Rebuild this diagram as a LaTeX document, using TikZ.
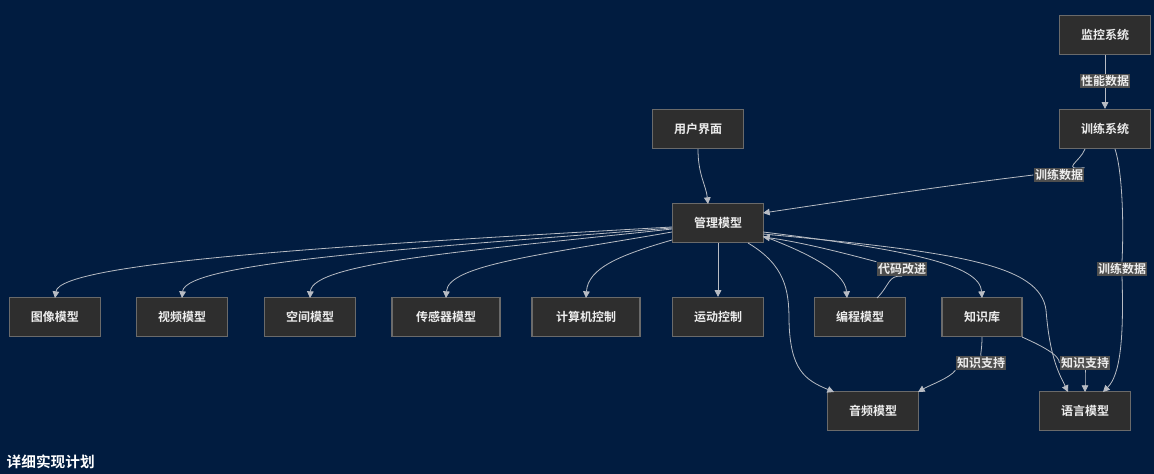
\documentclass[tikz,border=0pt]{standalone}
\usepackage{fontspec}
\setmainfont{Noto Sans CJK SC}[BoldFont={Noto Sans CJK SC Bold}]
\usetikzlibrary{arrows.meta}
\definecolor{bgc}{HTML}{011C40}
\definecolor{nodefill}{HTML}{2E2E2E}
\definecolor{nodeline}{HTML}{6A6A6A}
\definecolor{edgec}{HTML}{B8BCC4}
\definecolor{labfill}{HTML}{4E4E4E}
\definecolor{txt}{HTML}{EDEDED}
\tikzset{
  box/.style={draw=nodeline, line width=0.9pt, fill=nodefill, text=txt, minimum width=68.25pt, minimum height=29.25pt, inner sep=0pt, font=\fontsize{9pt}{10pt}\selectfont\bfseries},
  wbox/.style={box, minimum width=81pt},
  kbox/.style={box, minimum width=60pt},
  lab/.style={fill=labfill, text=txt, inner sep=1pt, font=\fontsize{9pt}{10pt}\selectfont\bfseries},
  edge/.style={draw=edgec, line width=0.6pt},
  arr/.style={edge, -{Triangle[length=5pt,width=5pt]}},
}
\begin{document}
\begin{tikzpicture}[x=0.75pt,y=-0.75pt]
\fill[bgc] (0,0) rectangle (1154,474);
\useasboundingbox (0,0) rectangle (1154,474);
% nodes
\node[box] (mon) at (1105,35) {监控系统};
\node[box] (trn) at (1105,129) {训练系统};
\node[box] (ui) at (698,129) {用户界面};
\node[box] (mgr) at (718,223) {管理模型};
\node[box] (img) at (55,317) {图像模型};
\node[box] (vid) at (182,317) {视频模型};
\node[box] (spa) at (310,317) {空间模型};
\node[wbox] (sen) at (446,317) {传感器模型};
\node[wbox] (cc) at (586,317) {计算机控制};
\node[box] (mot) at (718,317) {运动控制};
\node[box] (prog) at (860,317) {编程模型};
\node[kbox] (kb) at (982,317) {知识库};
\node[box] (aud) at (873,411) {音频模型};
\node[box] (lang) at (1085,411) {语言模型};
\node[anchor=west, text=white, font=\fontsize{11pt}{12pt}\selectfont\bfseries] (title) at (2,462) {详细实现计划};
% coordinates
\coordinate (imgT) at (55,298);
\coordinate (vidT) at (182,298);
\coordinate (spaT) at (310,298);
\coordinate (senT) at (446,298);
\coordinate (ccT) at (586,298);
\coordinate (progT) at (847,298);
\coordinate (kbT) at (982,298);
\coordinate (audT) at (834,392);
\coordinate (langT1) at (1068,392);
\coordinate (langT2) at (1085,392);
\coordinate (langT3) at (1103,392);
\coordinate (langV) at (1046,310);
% labels
\node[lab] (l1) at (1105,81) {性能数据};
\node[lab] (l2) at (1059,175) {训练数据};
\node[lab] (l3) at (1122,269) {训练数据};
\node[lab] (l4) at (902,269) {代码改进};
\node[lab] (l5) at (981,363) {知识支持};
\node[lab] (l6) at (1085,363) {知识支持};
% edges
\draw[edge] (mon.south) -- (l1);
\draw[arr] (l1) -- (trn.north);
\draw[arr] (ui.south) .. controls (698,175) and (706,185) .. (708,204);
% training -> manager
\draw[edge] (1085,149) .. controls (1080,162) and (1060,170) .. (l2.north east);
\draw[arr] (l2.west) .. controls (950,185) and (850,200) .. (763,213);
% training -> language
\draw[edge] (1115,149) .. controls (1122,170) and (1124,220) .. (l3.north);
\draw[arr] (l3.south) .. controls (1124,340) and (1120,375) .. (langT3);
% manager -> children
\draw[arr] (672,227) .. controls (350,245) and (60,262) .. (imgT);
\draw[arr] (672,228) .. controls (420,248) and (185,262) .. (vidT);
\draw[arr] (672,229) .. controls (480,250) and (312,262) .. (spaT);
\draw[arr] (672,232) .. controls (540,255) and (448,265) .. (senT);
\draw[arr] (672,240) .. controls (620,255) and (588,268) .. (ccT);
\draw[arr] (mot.north|-mgr.south) -- (mot.north);
\draw[arr] (763,236) .. controls (800,250) and (845,270) .. (progT);
\draw[arr] (763,232) .. controls (910,250) and (980,265) .. (kbT);
\draw[edge] (748,243) .. controls (785,265) and (789,290) .. (789,320);
\draw[arr] (789,320) .. controls (790,370) and (805,380) .. (audT);
\draw[edge] (763,234) .. controls (960,252) and (1040,265) .. (langV);
\draw[arr] (langV) .. controls (1050,360) and (1060,375) .. (langT1);
% programming -> manager
\draw[edge] (877,298) .. controls (890,285) and (888,275) .. (l4.south);
\draw[arr] (l4.north west) .. controls (840,252) and (800,242) .. (763,237);
% knowledge support
\draw[edge] (kb.south) .. controls (982,350) and (980,355) .. (l5.north);
\draw[arr] (l5.south west) .. controls (950,378) and (930,385) .. (918,392);
\draw[edge] (1022,337) .. controls (1040,345) and (1060,355) .. (l6.west);
\draw[arr] (l6.south) .. controls (1085,375) and (1085,385) .. (langT2);
% redraw labels on top
\node[lab] at (1105,81) {性能数据};
\node[lab] at (1059,175) {训练数据};
\node[lab] at (1122,269) {训练数据};
\node[lab] at (902,269) {代码改进};
\node[lab] at (981,363) {知识支持};
\node[lab] at (1085,363) {知识支持};
\end{tikzpicture}
\end{document}
